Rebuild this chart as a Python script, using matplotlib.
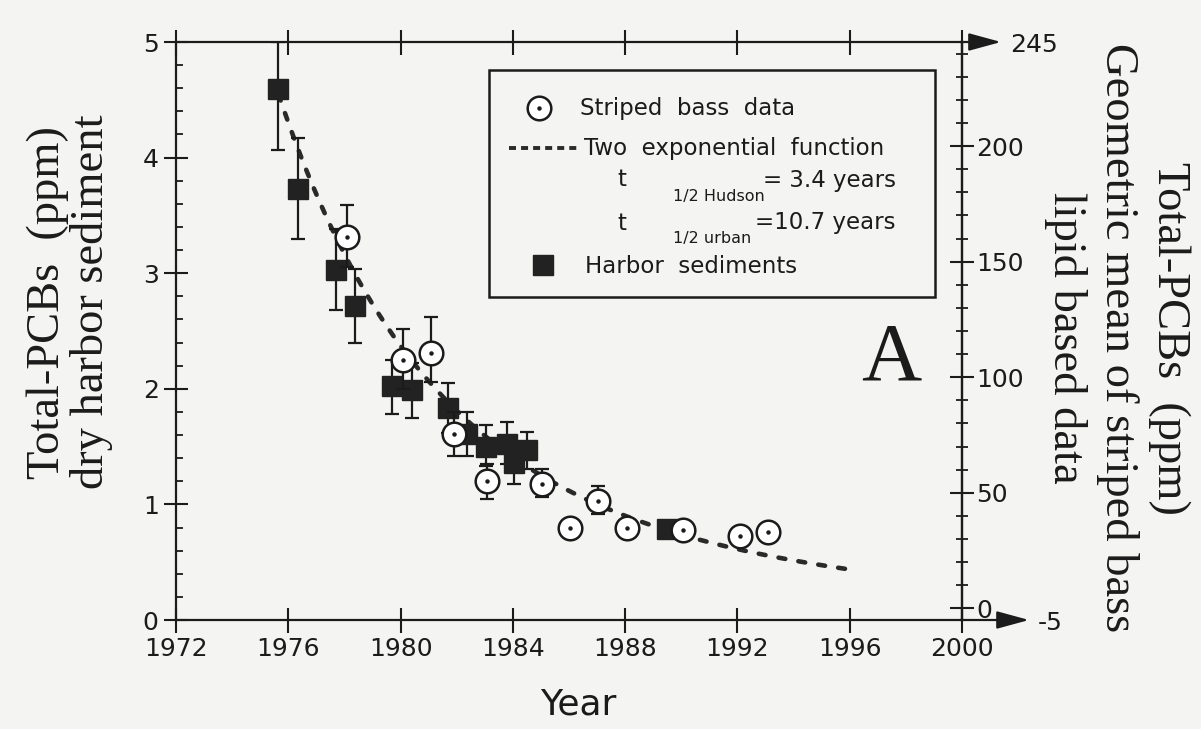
import numpy as np
import matplotlib
matplotlib.use("Agg")
import matplotlib.pyplot as plt
from matplotlib.ticker import MultipleLocator, FixedLocator
from matplotlib.patches import Rectangle
from matplotlib.lines import Line2D

# Harbor sediments: total PCBs, ppm dry weight (value, error-bar low/high)
sed_year = [1975.65, 1976.35, 1977.70, 1978.38, 1979.70, 1980.40, 1981.70,
            1982.37, 1983.05, 1983.80, 1984.05, 1984.50, 1989.50]
sed_ppm = [4.59, 3.73, 3.03, 2.72, 2.02, 1.99, 1.83, 1.61, 1.50, 1.52, 1.36, 1.47, 0.79]
sed_low = [4.07, 3.30, 2.68, 2.40, 1.78, 1.75, 1.62, 1.42, 1.33, 1.35, 1.18, 1.31, 0.79]
sed_high = [5.00, 4.17, 3.38, 3.04, 2.25, 2.22, 2.05, 1.80, 1.69, 1.71, 1.52, 1.63, 0.79]

# Striped bass: geometric mean total PCBs, ppm lipid basis (value, low/high)
bass_year = [1978.10, 1980.10, 1981.10, 1981.90, 1983.08, 1985.04,
             1986.04, 1987.03, 1988.07, 1990.06, 1992.10, 1993.10]
bass_ppm = [160.5, 107.5, 110.5, 75.5, 55.0, 54.0, 34.7, 46.5, 34.7, 34.0, 31.5, 33.0]
bass_low = [147.5, 95.0, 98.0, 66.0, 47.3, 48.0, 34.7, 41.0, 34.7, 34.0, 31.5, 33.0]
bass_high = [174.5, 121.0, 126.0, 85.0, 62.5, 60.5, 34.7, 53.0, 34.7, 34.0, 31.5, 33.0]

# Two-exponential decline fitted to the sediment record
half_life_hudson = 3.4
half_life_urban = 10.7
amp_hudson = 3.10
amp_urban = 1.45
fit_start, fit_end = 1975.65, 1996.0

x_ticks = [1972, 1976, 1980, 1984, 1988, 1992, 1996, 2000]
left_ticks = [0, 1, 2, 3, 4, 5]
right_ticks = [0, 50, 100, 150, 200]
right_title = ["Total-PCBs  (ppm)", "Geometric mean of striped bass",
               "lipid based data"]

W, H = 1201, 729
BG = "#f4f4f2"
INK = "#1b1b1b"
SANS = "DejaVu Sans"
SERIF = "Liberation Serif"


def px(x, y):
    """Pixel position (origin top-left) to figure fraction."""
    return x / W, 1 - y / H


fig = plt.figure(figsize=(W / 100, H / 100), dpi=100, facecolor=BG)
ax = fig.add_axes([176 / W, 1 - 620 / H, 786 / W, 578 / H])
ax.set_facecolor(BG)
ax.set_xlim(1972, 2000)
ax.set_ylim(0, 5)
ax2 = ax.twinx()
ax2.set_ylim(-5, 245)

for s in ax.spines.values():
    s.set_linewidth(1.6)
    s.set_color(INK)
for name, s in ax2.spines.items():
    s.set_visible(name == "right")
    s.set_linewidth(1.6)
    s.set_color(INK)

# x axis: crossing ticks on bottom and top, labels only at the bottom
ax.xaxis.set_major_locator(FixedLocator(x_ticks))
ax.set_xticklabels([str(v) for v in x_ticks])
ax.tick_params(axis="x", which="major", top=True, direction="inout",
               length=18, width=1.5, color=INK, pad=3,
               labelsize=18, labelcolor=INK)

# left axis
ax.yaxis.set_major_locator(FixedLocator(left_ticks))
ax.yaxis.set_minor_locator(MultipleLocator(0.2))
ax.set_yticklabels([str(v) for v in left_ticks])
ax.tick_params(axis="y", which="major", direction="inout", length=17,
               width=1.5, color=INK, pad=4, labelsize=18, labelcolor=INK)
ax.tick_params(axis="y", which="minor", direction="in", length=5,
               width=1.3, color=INK)

# right axis
ax2.yaxis.set_major_locator(FixedLocator(right_ticks))
ax2.yaxis.set_minor_locator(MultipleLocator(10))
ax2.set_yticklabels([str(v) for v in right_ticks])
ax2.tick_params(axis="y", which="major", direction="inout", length=17,
                width=1.5, color=INK, pad=2, labelsize=18, labelcolor=INK)
ax2.tick_params(axis="y", which="minor", direction="inout", length=9,
                width=1.3, color=INK)

for lab in ax.get_xticklabels() + ax.get_yticklabels() + ax2.get_yticklabels():
    lab.set_family(SANS)

# fitted curve
t = np.linspace(fit_start, fit_end, 400)
fit = (amp_hudson * np.exp(-np.log(2) * (t - fit_start) / half_life_hudson)
       + amp_urban * np.exp(-np.log(2) * (t - fit_start) / half_life_urban))
ax.plot(t, fit, color="#2a2a2a", lw=3.3, dashes=(1.5, 2.9),
        dash_capstyle="round", zorder=2)

# sediment squares with error bars
sed_y = np.array(sed_ppm)
sed_err = [sed_y - np.array(sed_low), np.array(sed_high) - sed_y]
ax.errorbar(sed_year, sed_ppm, yerr=sed_err, fmt="none", ecolor=INK,
            elinewidth=1.6, capsize=5, capthick=1.6, zorder=3)
ax.plot(sed_year, sed_ppm, ls="none", marker="s", ms=15, mfc="#222222",
        mec="#222222", zorder=4)

# striped bass circles with error bars (right-hand scale)
bass_y = np.array(bass_ppm)
bass_err = [bass_y - np.array(bass_low), np.array(bass_high) - bass_y]
ax2.errorbar(bass_year, bass_ppm, yerr=bass_err, fmt="none", ecolor=INK,
             elinewidth=1.6, capsize=5, capthick=1.6, zorder=3)
ax2.plot(bass_year, bass_ppm, ls="none", marker="o", ms=17, mfc="white",
         mec=INK, mew=1.8, zorder=4)
ax2.plot(bass_year, bass_ppm, ls="none", marker="o", ms=2.2, mfc=INK,
         mec=INK, zorder=5)

# arrow extensions of the top and bottom axis lines
for y0, x1 in [(42, 1001), (620, 1029)]:
    ax.annotate("", xy=px(x1, y0), xycoords="figure fraction",
                xytext=px(960, y0), textcoords="figure fraction",
                arrowprops=dict(arrowstyle="-|>,head_length=1.1,head_width=0.3",
                                lw=1.6, color=INK, shrinkA=0, shrinkB=0,
                                mutation_scale=18),
                annotation_clip=False)
fig.text(*px(1010, 45), "245", fontsize=18, family=SANS, color=INK,
         ha="left", va="center")
fig.text(*px(1038, 623), "-5", fontsize=18, family=SANS, color=INK,
         ha="left", va="center")

# axis titles
ax.set_xlabel("Year", fontsize=26, family=SANS, color=INK)
ax.xaxis.set_label_coords(0.512, -0.147)
ax.xaxis.label.set(va="center")
ax.set_ylabel("Total-PCBs  (ppm)\ndry harbor sediment", fontsize=33.5,
              family=SERIF, color=INK, linespacing=1.05)
ax.yaxis.set_label_coords(-0.135, 0.55)
ax.yaxis.label.set(ha="center", va="center", multialignment="center")

# right-hand title, one line per text, reading downward
for line, xpos in zip(right_title, [1169, 1117, 1065]):
    fig.text(*px(xpos, 338), line, fontsize=33.5, family=SERIF, color=INK,
             rotation=270, ha="center", va="center")

# panel letter
fig.text(*px(891, 380), "A", fontsize=60, family=SERIF, color=INK,
         ha="center", va="baseline")

# legend box
x0, y0 = px(489, 297)
x1, y1 = px(935, 70)
fig.add_artist(Rectangle((x0, y0), x1 - x0, y1 - y0, transform=fig.transFigure,
                         fill=False, lw=1.8, ec=INK, zorder=6))
fig.add_artist(Line2D([px(539, 108)[0]], [px(539, 108)[1]], transform=fig.transFigure,
                      ls="none", marker="o", ms=17, mfc="white", mec=INK, mew=1.8))
fig.add_artist(Line2D([px(539, 108)[0]], [px(539, 108)[1]], transform=fig.transFigure,
                      ls="none", marker="o", ms=2.2, mfc=INK, mec=INK))
lx0, ly = px(509, 148)
lx1, _ = px(578, 148)
fig.add_artist(Line2D([lx0, lx1], [ly, ly], transform=fig.transFigure,
                      color="#2a2a2a", lw=2.8, dashes=(1.8, 1.3)))
fig.add_artist(Line2D([px(543, 265)[0]], [px(543, 265)[1]], transform=fig.transFigure,
                      ls="none", marker="s", ms=14, mfc="#222222", mec="#222222"))

leg_kw = dict(fontsize=16.5, family=SANS, color=INK, va="center", ha="left")
sub_kw = dict(fontsize=11.5, family=SANS, color=INK, va="center", ha="left")
fig.text(*px(580, 108), "Striped  bass  data", **leg_kw)
fig.text(*px(584, 148), "Two  exponential  function", **leg_kw)
fig.text(*px(617, 180), "t", **leg_kw)
fig.text(*px(673, 196), "1/2 Hudson", **sub_kw)
fig.text(*px(763, 180), "= %.1f years" % half_life_hudson, **leg_kw)
fig.text(*px(617, 223), "t", **leg_kw)
fig.text(*px(673, 239), "1/2 urban", **sub_kw)
fig.text(*px(755, 223), "=%.1f years" % half_life_urban, **leg_kw)
fig.text(*px(585, 266), "Harbor  sediments", **leg_kw)

fig.savefig("out.png", dpi=100, facecolor=BG)
